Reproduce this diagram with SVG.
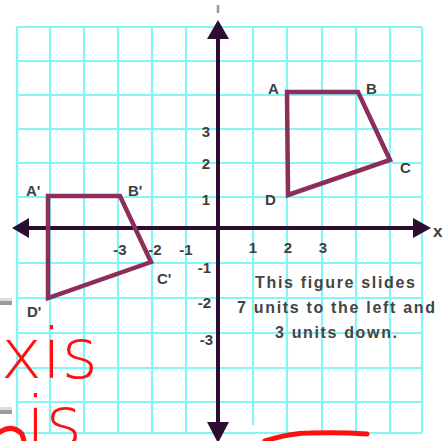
<svg xmlns="http://www.w3.org/2000/svg" width="446" height="441" viewBox="0 0 446 441">
  <style>
    .grid line { stroke: #84f6f6; stroke-width: 2.2; }
    .axis { stroke: #2e0d33; stroke-width: 4; fill: none; }
    .head { fill: #2e0d33; }
    .shape { fill: none; stroke: #8e2c5c; stroke-width: 4.5; stroke-linejoin: miter; }
    .lbl { font-family: "Liberation Sans", Arial, sans-serif; font-weight: bold; font-size: 15px; fill: #3e3e3e; }
    .num { font-family: "Liberation Sans", Arial, sans-serif; font-weight: bold; font-size: 15px; fill: #3e3e3e; }
    .note { font-family: "Liberation Sans", Arial, sans-serif; font-weight: bold; font-size: 16px; fill: #444; text-anchor: middle; }
    .hand { font-family: "DejaVu Sans", sans-serif; font-weight: 200; font-size: 70px; fill: #ff1010; }
  </style>
  <rect width="446" height="441" fill="#ffffff"/>

  <g id="page-marks">
    <rect x="0" y="301" width="12" height="4" fill="#9a9a9a"/>
    <rect x="0" y="298" width="12" height="3" fill="#dcdcdc"/>
    <rect x="0" y="410" width="12" height="4" fill="#9a9a9a"/>
    <rect x="0" y="407" width="12" height="3" fill="#dcdcdc"/>
  </g>

  <g id="grid" class="grid">
    <line x1="17" y1="27" x2="17" y2="433"/>
    <line x1="50" y1="27" x2="50" y2="433"/>
    <line x1="84" y1="27" x2="84" y2="433"/>
    <line x1="118" y1="27" x2="118" y2="433"/>
    <line x1="152" y1="27" x2="152" y2="433"/>
    <line x1="186" y1="27" x2="186" y2="433"/>
    <line x1="253" y1="27" x2="253" y2="425"/>
    <line x1="287" y1="27" x2="287" y2="433"/>
    <line x1="322" y1="27" x2="322" y2="433"/>
    <line x1="356" y1="27" x2="356" y2="433"/>
    <line x1="390" y1="27" x2="390" y2="433"/>
    <line x1="422" y1="27" x2="422" y2="433"/>
    <line x1="17" y1="27" x2="422" y2="27"/>
    <line x1="17" y1="61" x2="422" y2="61"/>
    <line x1="17" y1="95" x2="422" y2="95"/>
    <line x1="17" y1="129" x2="422" y2="129"/>
    <line x1="17" y1="163" x2="422" y2="163"/>
    <line x1="17" y1="197" x2="422" y2="197"/>
    <line x1="17" y1="263" x2="422" y2="263"/>
    <line x1="17" y1="298" x2="422" y2="298"/>
    <line x1="17" y1="333" x2="422" y2="333"/>
    <line x1="17" y1="368" x2="422" y2="368"/>
    <line x1="17" y1="402" x2="422" y2="402"/>
    <line x1="17" y1="433" x2="422" y2="433"/>
  </g>

  <g id="axes">
    <line class="axis" x1="218" y1="34" x2="218" y2="426"/>
    <line class="axis" x1="26" y1="228" x2="416" y2="228"/>
    <polygon class="head" points="218,20 229,39 207,39"/>
    <polygon class="head" points="218,443 229,422 207,422"/>
    <polygon class="head" points="12,228 29,218 29,238"/>
    <polygon class="head" points="431,228 413,218 413,238"/>
    <line x1="218" y1="5" x2="218" y2="13" stroke="#9a9a9a" stroke-width="2.5"/>
  </g>

  <g id="axis-labels">
    <text class="num" x="210" y="137" text-anchor="end">3</text>
    <text class="num" x="210" y="169" text-anchor="end">2</text>
    <text class="num" x="210" y="205" text-anchor="end">1</text>
    <text class="num" x="211" y="273" text-anchor="end">-1</text>
    <text class="num" x="211" y="308" text-anchor="end">-2</text>
    <text class="num" x="213" y="345" text-anchor="end">-3</text>
    <text class="num" x="120" y="255" text-anchor="middle">-3</text>
    <text class="num" x="155" y="255" text-anchor="middle">-2</text>
    <text class="num" x="186" y="255" text-anchor="middle">-1</text>
    <text class="num" x="253" y="253" text-anchor="middle">1</text>
    <text class="num" x="288" y="253" text-anchor="middle">2</text>
    <text class="num" x="323" y="253" text-anchor="middle">3</text>
    <text class="num" x="433" y="237" style="font-size:17px">x</text>
  </g>

  <g id="figure-ABCD">
    <polygon class="shape" points="287,92 358,92 390,160 288,195"/>
    <text class="lbl" x="268" y="94">A</text>
    <text class="lbl" x="366" y="94">B</text>
    <text class="lbl" x="400" y="173">C</text>
    <text class="lbl" x="265" y="205">D</text>
  </g>

  <g id="figure-image">
    <polygon class="shape" points="48,196 120,196 151,262 48,298"/>
    <text class="lbl" x="26" y="196">A'</text>
    <text class="lbl" x="128" y="196">B'</text>
    <text class="lbl" x="157" y="284">C'</text>
    <text class="lbl" x="27" y="317">D'</text>
  </g>

  <g id="note">
    <text class="note" x="335" y="288" textLength="160" lengthAdjust="spacing">This figure slides</text>
    <text class="note" x="336" y="313" textLength="198" lengthAdjust="spacing">7 units to the left and</text>
    <text class="note" x="336" y="338" textLength="122" lengthAdjust="spacing">3 units down.</text>
  </g>

  <g id="annotation">
    <text class="hand" x="98" y="378" text-anchor="end">xis</text>
    <text class="hand" x="82" y="446" text-anchor="end">is</text>
    <path d="M0,432 Q12,424 22,434 L24,441" fill="none" stroke="#ff1010" stroke-width="5" stroke-linecap="round"/>
    <path d="M265,441 Q290,433 310,433 Q340,432 367,434" fill="none" stroke="#ff1010" stroke-width="5" stroke-linecap="round"/>
  </g>
</svg>
